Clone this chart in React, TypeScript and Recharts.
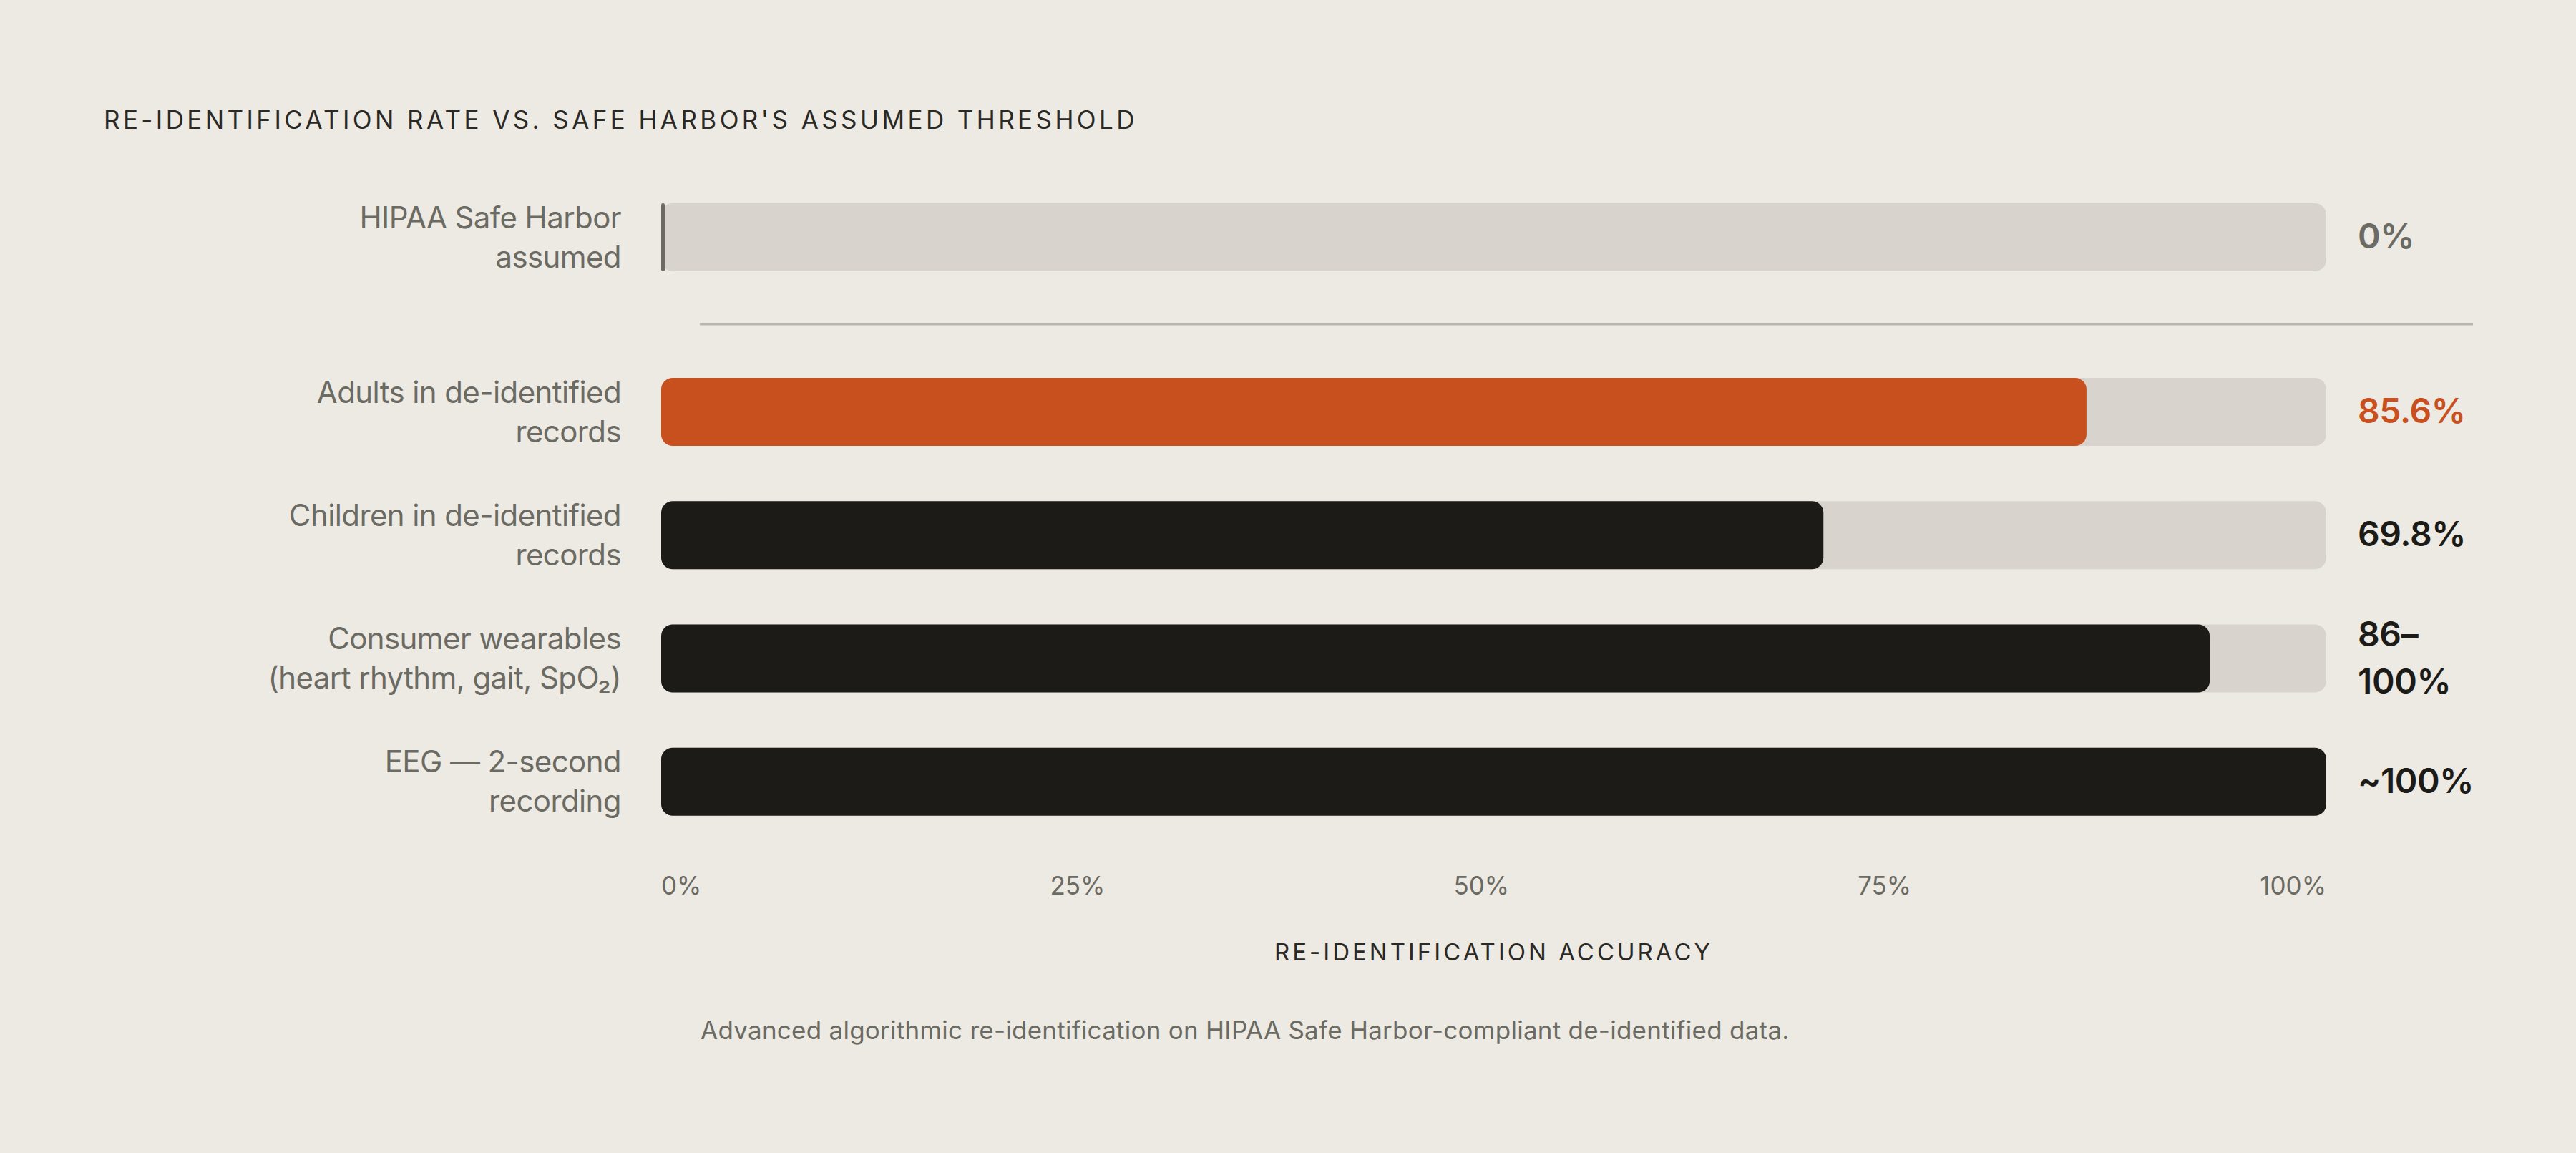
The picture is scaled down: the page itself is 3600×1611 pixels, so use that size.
import React from 'react';
import { BarChart, Bar, XAxis, YAxis, Cell } from 'recharts';

// ---------- data ----------
const baselineCategories = ['HIPAA Safe Harbor assumed'];
const baselineCategoryLines = [['HIPAA Safe Harbor', 'assumed']];
const baselineValues = [0];
const baselineValueLabels = [['0%']];

const categories = [
  'Adults in de-identified records',
  'Children in de-identified records',
  'Consumer wearables (heart rhythm, gait, SpO₂)',
  'EEG — 2-second recording',
];
const categoryLines = [
  ['Adults in de-identified', 'records'],
  ['Children in de-identified', 'records'],
  ['Consumer wearables', '(heart rhythm, gait, SpO₂)'],
  ['EEG — 2-second', 'recording'],
];
const values = [85.6, 69.8, 93, 100];
const valueLabels = [['85.6%'], ['69.8%'], ['86–', '100%'], ['~100%']];
const highlighted = [true, false, false, false];
const xTicks = [0, 25, 50, 75, 100];

const TITLE = "RE-IDENTIFICATION RATE VS. SAFE HARBOR'S ASSUMED THRESHOLD";
const AXIS_TITLE = 'RE-IDENTIFICATION ACCURACY';
const FOOTNOTE = 'Advanced algorithmic re-identification on HIPAA Safe Harbor-compliant de-identified data.';

// ---------- style ----------
const W = 3600;
const H = 1611;
const BG = '#edeae3';
const TRACK = '#d8d4cd';
const ORANGE = '#c8501f';
const INK = '#1c1b17';
const MUTED = '#6b6a63';
const RULE = '#b9b6ab';
const TITLE_INK = '#2a2925';
const FONT = 'Inter, "Noto Sans", sans-serif';

const LEFT_AXIS_W = 924;
const RIGHT_AXIS_W = 349;
const PLOT_LEFT = LEFT_AXIS_W;
const PLOT_RIGHT = W - RIGHT_AXIS_W;
const BAR_SIZE = 95;
const TICK_FONT = 35;

const baselineData = baselineCategories.map((name, i) => ({ name, value: baselineValues[i] }));
const data = categories.map((name, i) => ({ name, value: values[i] }));

let measureCtx: any = null;
function measure(text: string, size: number) {
  try {
    if (!measureCtx) measureCtx = document.createElement('canvas').getContext('2d');
    measureCtx.font = `${size}px Inter`;
    return measureCtx.measureText(text).width;
  } catch (e) {
    return text.length * size * 0.6;
  }
}

function MultiLine({ x, y, lines, size, lh, anchor, fill, weight, capOffset, spacing }: any) {
  return (
    <text x={x} y={y} textAnchor={anchor} fill={fill} fontSize={size} fontWeight={weight} fontFamily={FONT} letterSpacing={spacing}>
      {lines.map((l: string, i: number) => (
        <tspan key={i} x={x} y={y + (i - (lines.length - 1) / 2) * lh + capOffset}>
          {l}
        </tspan>
      ))}
    </text>
  );
}

const makeCategoryTick = (linesArr: string[][]) => (props: any) => {
  const { x, y, index } = props;
  const lines = linesArr[index] || [String(props.payload?.value ?? '')];
  return <MultiLine x={x} y={y} lines={lines} size={42} lh={55} anchor="end" fill={MUTED} weight={400} capOffset={15} spacing={-0.6} />;
};

const makeValueTick = (linesArr: string[][], colors: string[]) => (props: any) => {
  const { x, y, index } = props;
  const lines = linesArr[index] || [''];
  return <MultiLine x={x} y={y} lines={lines} size={48} lh={66} anchor="start" fill={colors[index]} weight={600} capOffset={16} spacing={-0.4} />;
};

// tick labels are spread across the track like a justified row (first flush left, last flush right)
const XTick = (props: any) => {
  const { y, index } = props;
  const labels = xTicks.map((t) => `${t}%`);
  const widths = labels.map((l) => measure(l, TICK_FONT));
  const total = widths.reduce((a, b) => a + b, 0);
  const gap = (PLOT_RIGHT - PLOT_LEFT - total) / (labels.length - 1);
  let left = PLOT_LEFT;
  for (let i = 0; i < index; i++) left += widths[i] + gap;
  return (
    <text x={left} y={y} dy="0.71em" textAnchor="start" fill={MUTED} fontSize={TICK_FONT} fontFamily={FONT}>
      {labels[index]}
    </text>
  );
};

const valueColors = values.map((_, i) => (highlighted[i] ? ORANGE : INK));
const barColors = values.map((_, i) => (highlighted[i] ? ORANGE : INK));

export default function App() {
  return (
    <div
      style={{
        position: 'absolute',
        left: 0,
        top: 0,
        width: W,
        height: H,
        background: BG,
        overflow: 'hidden',
        fontFamily: FONT,
      }}
    >
      <svg width={W} height={H} style={{ position: 'absolute', left: 0, top: 0 }}>
        <text x={145} y={180} fontSize={35} fontWeight={400} letterSpacing={4.4} fill={TITLE_INK} fontFamily={FONT}>
          {TITLE}
        </text>
        <line x1={978} x2={3456} y1={453} y2={453} stroke={RULE} strokeWidth={3} />
        <text x={979} y={1452} fontSize={35} fill={MUTED} fontFamily={FONT} letterSpacing={0.25}>
          {FOOTNOTE}
        </text>
      </svg>

      {/* baseline row */}
      <div style={{ position: 'absolute', left: 0, top: 231 }}>
        <BarChart width={W} height={200} layout="vertical" data={baselineData} margin={{ top: 0, right: 0, bottom: 0, left: 0 }}>
          <XAxis type="number" domain={[0, 100]} hide />
          <YAxis
            yAxisId="left"
            type="category"
            dataKey="name"
            width={LEFT_AXIS_W}
            axisLine={false}
            tickLine={false}
            tickSize={0}
            tickMargin={56}
            interval={0}
            tick={makeCategoryTick(baselineCategoryLines)}
          />
          <YAxis
            yAxisId="right"
            orientation="right"
            type="category"
            dataKey="name"
            width={RIGHT_AXIS_W}
            axisLine={false}
            tickLine={false}
            tickSize={0}
            tickMargin={44}
            interval={0}
            tick={makeValueTick(baselineValueLabels, [MUTED])}
          />
          <Bar
            yAxisId="left"
            dataKey="value"
            barSize={BAR_SIZE}
            minPointSize={5}
            radius={2.5}
            fill={MUTED}
            background={{ fill: TRACK, radius: 16 }}
            isAnimationActive={false}
          />
        </BarChart>
      </div>

      {/* main rows */}
      <div style={{ position: 'absolute', left: 0, top: 489 }}>
        <BarChart width={W} height={689 + 164} layout="vertical" data={data} margin={{ top: 0, right: 0, bottom: 0, left: 0 }}>
          <XAxis
            type="number"
            domain={[0, 100]}
            ticks={xTicks}
            interval={0}
            axisLine={false}
            tickLine={false}
            tickSize={0}
            tickMargin={47}
            height={164}
            tick={<XTick />}
            label={{
              value: AXIS_TITLE,
              position: 'insideBottom',
              offset: 0,
              fill: TITLE_INK,
              fontSize: 33,
              fontWeight: 400,
              letterSpacing: 4,
              fontFamily: FONT,
            }}
          />
          <YAxis
            yAxisId="left"
            type="category"
            dataKey="name"
            width={LEFT_AXIS_W}
            axisLine={false}
            tickLine={false}
            tickSize={0}
            tickMargin={56}
            interval={0}
            tick={makeCategoryTick(categoryLines)}
          />
          <YAxis
            yAxisId="right"
            orientation="right"
            type="category"
            dataKey="name"
            width={RIGHT_AXIS_W}
            axisLine={false}
            tickLine={false}
            tickSize={0}
            tickMargin={44}
            interval={0}
            tick={makeValueTick(valueLabels, valueColors)}
          />
          <Bar
            yAxisId="left"
            dataKey="value"
            barSize={BAR_SIZE}
            radius={16}
            background={{ fill: TRACK, radius: 16 }}
            isAnimationActive={false}
          >
            {data.map((d, i) => (
              <Cell key={d.name} fill={barColors[i]} />
            ))}
          </Bar>
        </BarChart>
      </div>
    </div>
  );
}
